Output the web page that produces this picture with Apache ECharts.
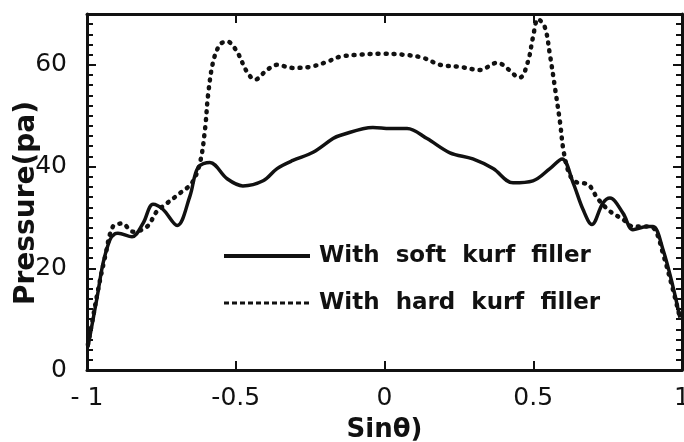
<!DOCTYPE html>
<html>
<head>
<meta charset="utf-8">
<script src="https://cdn.jsdelivr.net/npm/echarts@6/dist/echarts.min.js"></script>
<style>
  html, body { margin: 0; padding: 0; background: #fff; }
  #chart { width: 684px; height: 442px; }
</style>
</head>
<body>
<div id="chart"></div>
<script>
// 数据：近似值
const softX = [-0.997, -0.966, -0.946, -0.923, -0.906, -0.896, -0.849, -0.812, -0.778, -0.745, -0.697, -0.654, -0.627, -0.587, -0.529, -0.476, -0.408, -0.361, -0.308, -0.240, -0.173, -0.150, -0.039, 0.018, 0.076, 0.143, 0.220, 0.297, 0.365, 0.432, 0.499, 0.556, 0.597, 0.634, 0.667, 0.697, 0.734, 0.758, 0.802, 0.835, 0.882, 0.903, 0.936, 0.970, 0.993]
const softP = [4.5, 14.3, 21, 25.6, 26.8, 26.9, 26.2, 28.8, 32.6, 31.6, 28.4, 34.2, 39.8, 40.8, 37.6, 36.2, 37.2, 39.6, 41.2, 42.8, 45.5, 46.1, 47.7, 47.5, 47.5, 45.5, 42.7, 41.5, 39.6, 36.8, 37.2, 39.6, 41.5, 36.8, 31.6, 28.6, 32.8, 33.8, 30.8, 27.6, 28.2, 28.2, 23.7, 16.3, 10.3]
const hardX = [-0.997, -0.980, -0.963, -0.939, -0.913, -0.882, -0.845, -0.798, -0.765, -0.731, -0.687, -0.647, -0.620, -0.603, -0.593, -0.576, -0.553, -0.529, -0.496, -0.462, -0.435, -0.395, -0.361, -0.308, -0.250, -0.193, -0.150, -0.082, -0.015, 0.062, 0.129, 0.187, 0.254, 0.321, 0.378, 0.398, 0.455, 0.482, 0.499, 0.516, 0.539, 0.556, 0.573, 0.590, 0.603, 0.624, 0.650, 0.681, 0.718, 0.758, 0.802, 0.835, 0.882, 0.909, 0.936, 0.970, 0.993]
const hardP = [5, 10.3, 15.7, 22.3, 28.2, 28.8, 27.2, 28.2, 31.2, 32.8, 34.8, 36.8, 40.8, 47.5, 54.1, 60.6, 64, 64.6, 62.6, 58.6, 57.1, 59, 60, 59.4, 59.6, 60.6, 61.6, 62, 62.2, 62, 61.4, 60, 59.6, 59, 60.4, 60, 57.5, 60.6, 65.4, 69, 67.4, 62, 55.5, 48.7, 42.7, 38.2, 36.8, 36.6, 33.6, 31.2, 29.6, 28.2, 28.2, 27.6, 22.9, 15.7, 10.3]
const xTickValues = [-1, -0.5, 0, 0.5, 1]
const xTickText = ['- 1', '-0.5', '0', '0.5', '1']
const seriesNames = ['With  soft  kurf  filler', 'With  hard  kurf  filler']

const zip = (xs, ys) => xs.map((x, i) => [x, ys[i]])

let myChart = echarts.init(document.getElementById('chart'))
const font = 'DejaVu Sans'
const frame = { show: true, onZero: false, lineStyle: { color: '#111', width: 3 } }
const tick = { inside: true, length: 9, lineStyle: { color: '#111', width: 2 } }
const minor = { show: true, splitNumber: 10, length: 6, lineStyle: { color: '#111', width: 2 } }

myChart.setOption({
    animation: false,
    backgroundColor: '#fff',
    grid: { left: 87, right: 2, top: 14, bottom: 72, outerBoundsMode: 'none', containLabel: false },
    legend: {
        orient: 'vertical',
        left: 217,
        top: 237,
        itemWidth: 86,
        itemHeight: 14,
        itemGap: 19,
        itemStyle: { opacity: 0 },
        data: [
            { name: seriesNames[0], lineStyle: { width: 4 } },
            { name: seriesNames[1], lineStyle: { type: [5, 3], width: 3, cap: 'butt' } }
        ],
        textStyle: { color: '#111', fontSize: 23, fontWeight: 'bold', fontFamily: font, lineHeight: 28, padding: [0, 0, 0, 4] }
    },
    xAxis: [{
        type: 'value',
        min: -1,
        max: 1,
        interval: 0.5,
        name: 'Sinθ)',
        nameLocation: 'middle',
        nameGap: 47,
        nameMoveOverlap: false,
        nameTextStyle: { color: '#111', fontSize: 26, fontWeight: 'bold', fontFamily: font },
        axisLine: frame,
        axisTick: tick,
        axisLabel: {
            color: '#111', fontSize: 25, fontFamily: font, margin: 16,
            formatter: v => { let i = xTickValues.indexOf(v); return i >= 0 ? xTickText[i] : '' }
        },
        splitLine: { show: false }
    }, {
        type: 'value',
        position: 'top',
        min: -1,
        max: 1,
        interval: 0.5,
        axisLine: frame,
        axisTick: tick,
        axisLabel: { show: false },
        splitLine: { show: false }
    }],
    yAxis: [{
        type: 'value',
        min: 0,
        max: 70,
        interval: 20,
        name: 'Pressure(pa)',
        nameLocation: 'middle',
        nameGap: 46,
        nameMoveOverlap: false,
        nameTextStyle: { color: '#111', fontSize: 28, fontWeight: 'bold', fontFamily: font, padding: [0, 22, 0, 0] },
        axisLine: frame,
        axisTick: tick,
        minorTick: minor,
        axisLabel: { color: '#111', fontSize: 25, fontFamily: font, margin: 20, showMaxLabel: false },
        splitLine: { show: false }
    }, {
        type: 'value',
        position: 'right',
        min: 0,
        max: 70,
        interval: 20,
        axisLine: frame,
        axisTick: tick,
        minorTick: minor,
        axisLabel: { show: false },
        splitLine: { show: false }
    }],
    series: [{
        name: seriesNames[0],
        type: 'line',
        smooth: 0.35,
        symbol: 'none',
        lineStyle: { color: '#111', width: 3.5 },
        itemStyle: { color: '#111' },
        data: zip(softX, softP)
    }, {
        name: seriesNames[1],
        type: 'line',
        smooth: 0.35,
        symbol: 'none',
        lineStyle: { color: '#111', width: 4.5, type: [1, 7], cap: 'round' },
        itemStyle: { color: '#111' },
        data: zip(hardX, hardP)
    }]
})
window.addEventListener('resize', function () {
    myChart.resize()
})
</script>
</body>
</html>
